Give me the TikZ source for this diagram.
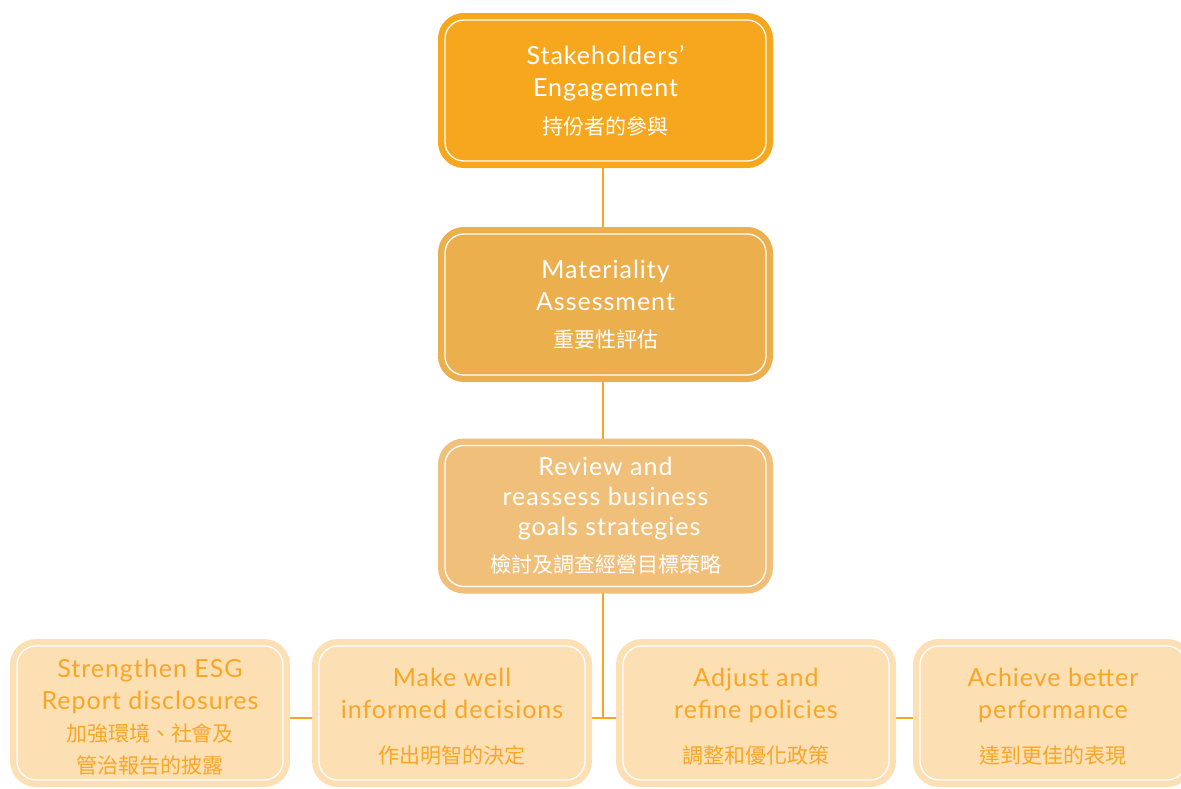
\documentclass[tikz,border=0pt]{standalone}
\usepackage{fontspec}
\setmainfont{Lato}[LetterSpace=4]
\newfontfamily\cjk{Noto Sans CJK TC}
\usetikzlibrary{backgrounds}
\definecolor{cA}{RGB}{247,167,30}
\definecolor{cB}{RGB}{235,175,77}
\definecolor{cC}{RGB}{240,192,122}
\definecolor{cD}{RGB}{253,223,180}
\definecolor{tx}{RGB}{247,166,38}
\definecolor{ln}{RGB}{247,166,30}
\newcommand{\zhline}[1]{{\cjk\fontsize{21}{29}\selectfont #1}}
\newcommand{\lowstrut}{\rule{0pt}{26pt}}
\begin{document}
\begin{tikzpicture}[x=1pt,y=-1pt,
  box/.style={rounded corners=19pt, draw=white, line width=1.3pt, fill=#1,
    preaction={draw=#1, line width=14pt}, align=center, inner sep=0pt,
    font=\fontsize{25}{32}\selectfont},
  topbox/.style={box=#1, minimum width=321pt, minimum height=141pt, text=white},
  lowbox/.style={box=cD, minimum width=266pt, minimum height=134pt, text=tx},
  conn/.style={draw=ln, line width=2.7pt}]
\useasboundingbox (0,0) rectangle (1181,788);
\clip (0,0) rectangle (1181,788);
\node[topbox=cA] (se) at (605.5,90.5) {Stakeholders’\\Engagement\\[6pt]\zhline{持份者的參與}};
\node[topbox=cB] (ma) at (605.5,304.5) {Materiality\\Assessment\\[5pt]\zhline{重要性評估}};
\node[topbox=cC, font=\fontsize{25}{30}\selectfont] (rv) at (605.5,516) {Review and\\reassess business\\\ goals strategies\\[7pt]\zhline{檢討及調查經營目標策略}};
\node[lowbox] (b1) at (150,713) {\lowstrut Strengthen ESG\\Report disclosures\\\zhline{加強環境、社會及}\\\zhline{管治報告的披露}};
\node[lowbox] (b2) at (452,713) {\lowstrut Make well\\informed decisions\\[13pt]\zhline{作出明智的決定}};
\node[lowbox] (b3) at (756,713) {\lowstrut Adjust and\\refine policies\\[13pt]\zhline{調整和優化政策}};
\node[lowbox] (b4) at (1053,713) {\lowstrut Achieve better\\performance\\[13pt]\zhline{達到更佳的表現}};
\coordinate (j) at (603,718);
\begin{scope}[on background layer]
\draw[conn] (se.south -| j) -- (ma.north -| j);
\draw[conn] (ma.south -| j) -- (rv.north -| j);
\draw[conn] (rv.south -| j) -- (j);
\draw[conn] (b1.east |- j) -- (b2.west |- j);
\draw[conn] (b2.east |- j) -- (b3.west |- j);
\draw[conn] (b3.east |- j) -- (b4.west |- j);
\end{scope}
\end{tikzpicture}
\end{document}
